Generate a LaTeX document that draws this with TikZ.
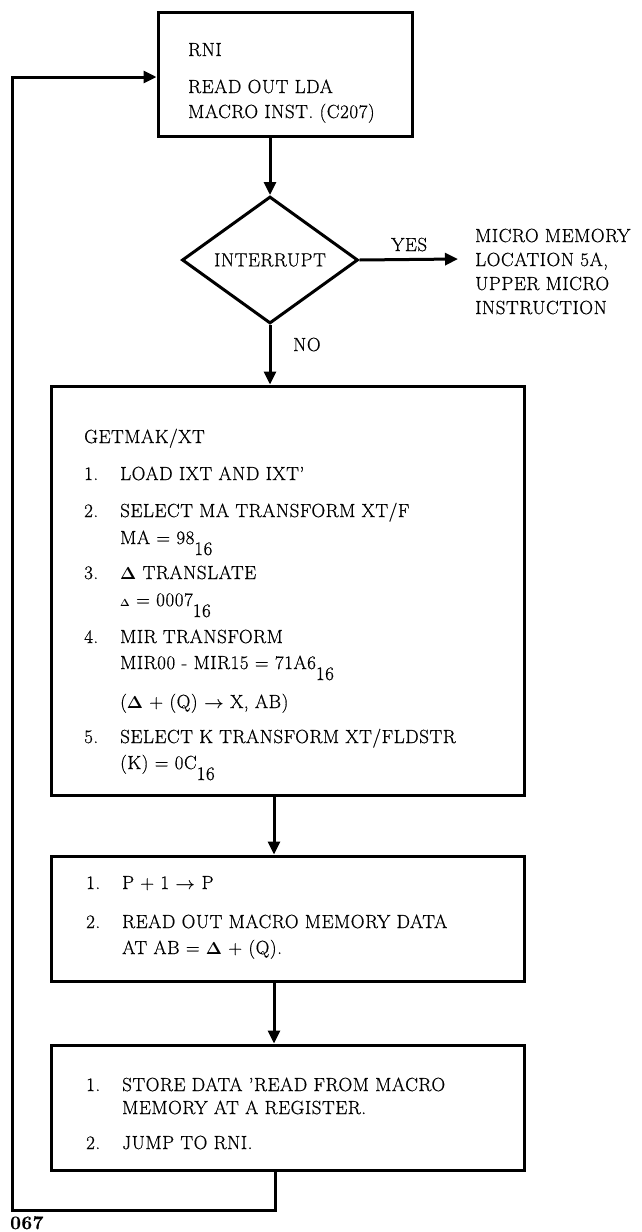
\documentclass[tikz,border=0pt]{standalone}
\usepackage{fontspec}
\setmainfont{Latin Modern Roman}[LetterSpace=3,FakeBold=0.6]
\usepackage{graphicx}
\usetikzlibrary{shapes.geometric,arrows.meta}
\newcommand{\sub}[1]{\raisebox{-11pt}{#1}}
\newcommand{\smalldelta}{\raisebox{0pt}{\scalebox{0.6}{$\boldsymbol{\Delta}$}}}
\usepackage{amsmath}
\begin{document}
\begin{tikzpicture}[x=1pt,y=-1pt,
  font=\fontsize{19}{23}\selectfont,
  every node/.style={inner sep=0pt},
  box/.style={draw,rectangle,line width=3pt},
  dia/.style={draw,diamond,aspect=1.4,line width=3pt,minimum width=176pt,minimum height=127pt},
  txt/.style={anchor=base west},
  arr/.style={line width=3pt,-{Triangle[length=13pt,width=12pt]}}]
\useasboundingbox (0,0) rectangle (642,1232);
\fill[white] (0,0) rectangle (642,1232);
% boxes
\node[box,minimum width=254pt,minimum height=124pt] (top) at (285,74) {};
\node[dia] (int) at (270,260) {INTERRUPT};
\node[box,minimum width=473pt,minimum height=409pt] (big) at (288,590.5) {};
\node[box,minimum width=473pt,minimum height=125pt] (b2) at (288,918.5) {};
\node[box,minimum width=473pt,minimum height=125pt] (b3) at (288,1107.5) {};
% top box text
\node[txt] (t1) at (188,56) {RNI};
\node[txt] (t2) at (188,93) {READ OUT LDA};
\node[txt] (t3) at (188,118) {MACRO INST. (C207)};
% yes branch
\coordinate (yesend) at (458,259);
\node[txt] (yes) at (391,251) {YES};
\node[txt] (m1) at (475,242) {MICRO MEMORY};
\node[txt] (m2) at (475,266) {LOCATION 5A,};
\node[txt] (m3) at (475,290) {UPPER MICRO};
\node[txt] (m4) at (475,314) {INSTRUCTION};
\node[txt] (no) at (293,351) {NO};
% big box text
\node[txt] (g0) at (84,443) {GETMAK/XT};
\node[txt] (n1) at (84,480) {1.};
\node[txt] (g1) at (120,480) {LOAD IXT AND IXT'};
\node[txt] (n2) at (84,517) {2.};
\node[txt] (g2) at (120,517) {SELECT MA TRANSFORM XT/F};
\node[txt] (g2b) at (120,544) {MA = 98\sub{16}};
\node[txt] (n3) at (84,579) {3.};
\node[txt] (g3) at (120,579) {$\boldsymbol{\Delta}$ TRANSLATE};
\node[txt] (g3b) at (120,606) {\smalldelta{} = 0007\sub{16}};
\node[txt] (n4) at (84,643) {4.};
\node[txt] (g4) at (120,643) {MIR TRANSFORM};
\node[txt] (g4b) at (120,669) {MIR00 - MIR15 = 71A6\sub{16}};
\node[txt] (g4c) at (120,708) {($\boldsymbol{\Delta}$ + (Q) $\boldsymbol{\rightarrow}$ X, AB)};
\node[txt] (n5) at (84,743) {5.};
\node[txt] (g5) at (120,743) {SELECT K TRANSFORM XT/FLDSTR};
\node[txt] (g5b) at (120,769) {(K) = 0C\sub{16}};
% box 2 text
\node[txt] (p1n) at (86,889) {1.};
\node[txt] (p1) at (122,889) {P + 1 $\boldsymbol{\rightarrow}$ P};
\node[txt] (p2n) at (86,928) {2.};
\node[txt] (p2) at (122,928) {READ OUT MACRO MEMORY DATA};
\node[txt] (p2b) at (122,954) {AT AB = $\boldsymbol{\Delta}$ + (Q).};
% box 3 text
\node[txt] (s1n) at (86,1091) {1.};
\node[txt] (s1) at (122,1091) {STORE DATA 'READ FROM MACRO};
\node[txt] (s1b) at (122,1114) {MEMORY AT A REGISTER.};
\node[txt] (s2n) at (86,1149) {2.};
\node[txt] (s2) at (122,1149) {JUMP TO RNI.};
\node[txt,font=\fontsize{19}{23}\selectfont\bfseries] (pg) at (10,1229) {067};
% connectors
\draw[arr] (top.south -| int.north) -- (int.north);
\draw[arr] (int.east) -- (yesend);
\draw[arr] (int.south) -- (int.south |- big.north);
\coordinate (c2) at (274,0);
\draw[arr] (big.south -| c2) -- (b2.north -| c2);
\draw[arr] (b2.south -| c2) -- (b3.north -| c2);
\coordinate (l1) at (275,1210);
\coordinate (l2) at (12,1210);
\coordinate (l3) at (12,77);
\draw[arr,line join=miter] (b3.south -| l1) -- (l1) -- (l2) -- (l3) -- (top.west |- l3);
\end{tikzpicture}
\end{document}
